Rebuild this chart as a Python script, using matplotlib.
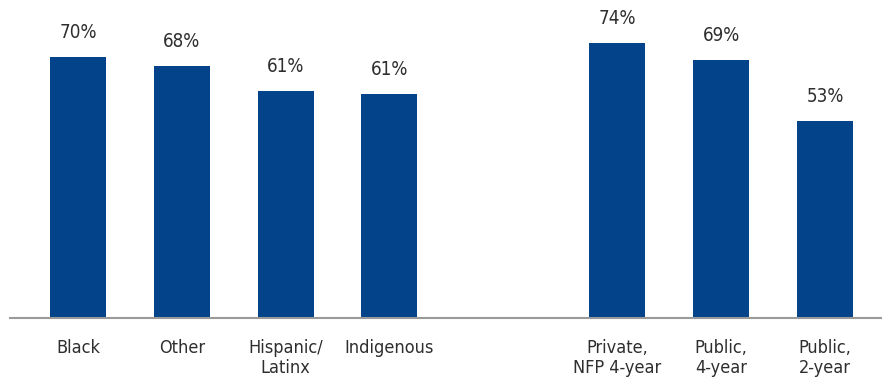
import matplotlib
matplotlib.use("Agg")
import matplotlib.pyplot as plt

categories = ["Black", "Other", "Hispanic/\nLatinx", "Indigenous",
              "Private,\nNFP 4-year", "Public,\n4-year", "Public,\n2-year"]
values = [70.2, 67.7, 61.0, 60.2, 73.9, 69.3, 53.0]
value_labels = ["70%", "68%", "61%", "61%", "74%", "69%", "53%"]
positions = [0, 1, 2, 3, 5.2, 6.2, 7.2]

plt.rcParams['font.family'] = ['DejaVu Sans']
plt.rcParams['font.stretch'] = 'condensed'

fig = plt.figure(figsize=(8.82, 3.81), dpi=100)
ax = fig.add_axes([10/882, 63/381, 872/882, 318/381])

bar_color = "#02438A"
text_color = "#2e2e2e"
ax.bar(positions, values, width=0.54, color=bar_color, zorder=2)

for x, v, lab in zip(positions, values, value_labels):
    ax.annotate(lab, (x, v), xytext=(0, 11), textcoords="offset points",
                ha="center", va="bottom", fontsize=13.5, color=text_color)

ax.set_xlim(-0.656, 7.75)
ax.set_ylim(0, 85.5)
ax.set_xticks(positions)
ax.set_xticklabels(categories, fontsize=13, color=text_color, linespacing=1.15)
ax.tick_params(axis="x", length=0, pad=15)
ax.set_yticks([])
for s in ["top", "right", "left"]:
    ax.spines[s].set_visible(False)
ax.spines["bottom"].set_color("#9a9a9a")
ax.spines["bottom"].set_linewidth(1.5)

fig.savefig("out.png", dpi=100)
